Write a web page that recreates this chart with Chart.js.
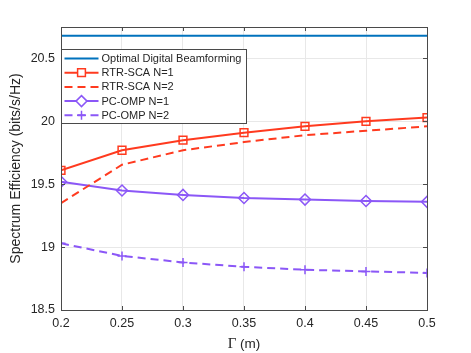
<!DOCTYPE html>
<html>
<head>
<meta charset="utf-8">
<script src="https://cdn.jsdelivr.net/npm/chart.js@4"></script>
<style>
  html, body { margin: 0; padding: 0; background: #fff; }
  #wrap { width: 471px; height: 353px; }
</style>
</head>
<body>
<div id="wrap"><canvas id="chart-se" width="471" height="353"></canvas></div>
<script>
// data
const gammaValues = [0.2, 0.25, 0.3, 0.35, 0.4, 0.45, 0.5];
const optimalDigital = [20.68, 20.68, 20.68, 20.68, 20.68, 20.68, 20.68];
const rtrScaN1 = [19.61, 19.77, 19.85, 19.91, 19.96, 20.0, 20.03];
const rtrScaN2 = [19.35, 19.655, 19.77, 19.835, 19.89, 19.925, 19.96];
const pcOmpN1 = [19.52, 19.45, 19.415, 19.39, 19.378, 19.367, 19.36];
const pcOmpN2 = [19.03, 18.93, 18.878, 18.843, 18.82, 18.807, 18.795];
const xTickLabels = ["0.2", "0.25", "0.3", "0.35", "0.4", "0.45", "0.5"];
const yTickLabels = ["18.5", "19", "19.5", "20", "20.5"];

const COLORS = {
  blue: "#0072BD",
  red: "#FF3A1F",
  purple: "#8B57F7",
  axis: "#4a4a4a",
  grid: "#e8e8e8",
  text: "#262626",
};
const SANS = "'Liberation Sans', Arial, Helvetica, sans-serif";

const toPoints = (arr) => arr.map((v, i) => ({ x: gammaValues[i], y: v }));

const series = [
  { label: "Optimal Digital Beamforming", data: optimalDigital, color: COLORS.blue, dash: [], point: false, radius: 0 },
  { label: "RTR-SCA N=1", data: rtrScaN1, color: COLORS.red, dash: [], point: "rect", radius: 5.5 },
  { label: "RTR-SCA N=2", data: rtrScaN2, color: COLORS.red, dash: [8, 5], point: false, radius: 0 },
  { label: "PC-OMP N=1", data: pcOmpN1, color: COLORS.purple, dash: [], point: "rectRot", radius: 5.5 },
  { label: "PC-OMP N=2", data: pcOmpN2, color: COLORS.purple, dash: [8, 5], point: "cross", radius: 4.5 },
];

// легенда и рамка в стиле matlab
const boxPlugin = {
  id: "boxPlugin",
  afterDatasetsDraw(chart) {
    const { ctx, chartArea: a, scales } = chart;
    ctx.save();
    // рамка
    ctx.strokeStyle = COLORS.axis;
    ctx.lineWidth = 1;
    ctx.setLineDash([]);
    ctx.strokeRect(Math.round(a.left) + 0.5, Math.round(a.top) + 0.5,
      Math.round(a.right - a.left), Math.round(a.bottom - a.top));
    // внутренние засечки
    const tl = 4;
    ctx.beginPath();
    xTickLabels.forEach((t) => {
      const px = Math.round(scales.x.getPixelForValue(parseFloat(t))) + 0.5;
      ctx.moveTo(px, a.bottom); ctx.lineTo(px, a.bottom - tl);
      ctx.moveTo(px, a.top); ctx.lineTo(px, a.top + tl);
    });
    yTickLabels.forEach((t) => {
      const py = Math.round(scales.y.getPixelForValue(parseFloat(t))) + 0.5;
      ctx.moveTo(a.left, py); ctx.lineTo(a.left + tl, py);
      ctx.moveTo(a.right, py); ctx.lineTo(a.right - tl, py);
    });
    ctx.stroke();

    // легенда
    const lx = Math.round(a.left) + 0.5, ly = 49.5, lw = 185, lh = 74;
    ctx.fillStyle = "#fff";
    ctx.fillRect(lx, ly, lw, lh);
    ctx.strokeStyle = COLORS.axis;
    ctx.strokeRect(lx, ly, lw, lh);
    ctx.font = "11px " + SANS;
    ctx.textBaseline = "middle";
    series.forEach((s, i) => {
      const y = 58.5 + i * 14.2;
      ctx.strokeStyle = s.color;
      ctx.lineWidth = 2;
      ctx.setLineDash(s.dash);
      ctx.beginPath();
      ctx.moveTo(lx + 3, y);
      ctx.lineTo(lx + 37, y);
      ctx.stroke();
      ctx.setLineDash([]);
      if (s.point) {
        ctx.lineWidth = 1.5;
        ctx.fillStyle = "#fff";
        Chart.helpers.drawPoint(ctx, { pointStyle: s.point, radius: s.radius, rotation: 0, borderWidth: 1.5 }, lx + 20, y);
      }
      ctx.fillStyle = COLORS.text;
      ctx.fillText(s.label, lx + 40, y + 0.5);
    });

    // подпись оси x: Γ (m)
    ctx.textBaseline = "alphabetic";
    ctx.fillStyle = COLORS.text;
    const gFont = "15px 'Liberation Serif', 'Times New Roman', serif";
    const mFont = "13.5px " + SANS;
    ctx.font = gFont;
    const gW = ctx.measureText("Γ").width;
    ctx.font = mFont;
    const mW = ctx.measureText(" (m)").width;
    const cx = (a.left + a.right) / 2 - (gW + mW) / 2;
    ctx.font = gFont;
    ctx.fillText("Γ", cx, 348);
    ctx.font = mFont;
    ctx.fillText(" (m)", cx + gW, 348);
    ctx.restore();
  },
};

const chartConfig = {
  type: "line",
  data: {
    datasets: series.map((s) => ({
      label: s.label,
      data: toPoints(s.data),
      borderColor: s.color,
      backgroundColor: "transparent",
      borderWidth: 2,
      borderDash: s.dash,
      pointStyle: s.point,
      pointRadius: s.radius,
      pointBorderWidth: 1.5,
      pointBorderColor: s.color,
      pointBackgroundColor: "transparent",
      tension: 0,
    })),
  },
  plugins: [boxPlugin],
  options: {
    responsive: false,
    animation: false,
    events: [],
    layout: { padding: { top: 27, right: 44, left: 0, bottom: 0 } },
    scales: {
      x: {
        type: "linear",
        min: 0.2,
        max: 0.5,
        afterBuildTicks: (scale) => {
          scale.ticks = xTickLabels.map((t) => ({ value: parseFloat(t) }));
        },
        afterFit: (scale) => { scale.height = 43; },
        ticks: {
          callback: (v) => xTickLabels.find((t) => Math.abs(parseFloat(t) - v) < 1e-6),
          color: COLORS.text,
          font: { family: SANS, size: 12.5 },
          padding: 6,
          maxRotation: 0,
        },
        grid: { color: COLORS.grid, drawTicks: false },
        border: { display: false },
      },
      y: {
        type: "linear",
        min: 18.5,
        max: 20.75,
        afterBuildTicks: (scale) => {
          scale.ticks = yTickLabels.map((t) => ({ value: parseFloat(t) }));
        },
        afterFit: (scale) => { scale.width = 61; },
        ticks: {
          callback: (v) => yTickLabels.find((t) => Math.abs(parseFloat(t) - v) < 1e-6),
          color: COLORS.text,
          font: { family: SANS, size: 12.5 },
          padding: 6,
        },
        grid: { color: COLORS.grid, drawTicks: false },
        border: { display: false },
        title: {
          display: true,
          text: "Spectrum Efficiency (bits/s/Hz)",
          color: COLORS.text,
          font: { family: SANS, size: 14 },
          padding: { top: 8, bottom: 0 },
        },
      },
    },
    plugins: {
      legend: { display: false },
      tooltip: { enabled: false },
    },
  },
};

new Chart(document.getElementById("chart-se").getContext("2d"), chartConfig);
</script>
</body>
</html>
